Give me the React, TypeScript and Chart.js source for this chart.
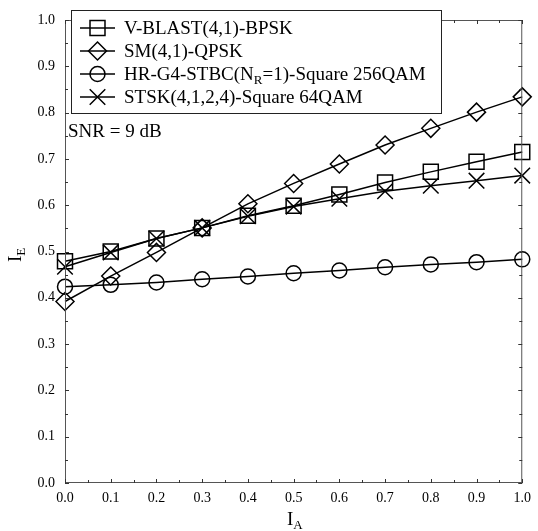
import React, { useEffect, useRef } from "react";
import { Chart, registerables } from "chart.js";

Chart.register(...registerables);

const xValues = [0.0, 0.1, 0.2, 0.3, 0.4, 0.5, 0.6, 0.7, 0.8, 0.9, 1.0];
const vblast = [0.479, 0.5, 0.528, 0.551, 0.577, 0.599, 0.623, 0.649, 0.672, 0.694, 0.715];
const sm = [0.392, 0.447, 0.498, 0.551, 0.603, 0.647, 0.689, 0.73, 0.766, 0.801, 0.834];
const hrg4 = [0.424, 0.428, 0.433, 0.44, 0.446, 0.453, 0.459, 0.466, 0.472, 0.477, 0.483];
const stsk = [0.467, 0.498, 0.528, 0.551, 0.576, 0.597, 0.614, 0.63, 0.642, 0.653, 0.664];

const seriesNames = [
  "V-BLAST(4,1)-BPSK",
  "SM(4,1)-QPSK",
  "HR-G4-STBC(N_R=1)-Square 256QAM",
  "STSK(4,1,2,4)-Square 64QAM",
];
const tickLabels = ["0.0", "0.1", "0.2", "0.3", "0.4", "0.5", "0.6", "0.7", "0.8", "0.9", "1.0"];
const annotation = "SNR = 9 dB";

const FONT = '"Liberation Serif", "Times New Roman", serif';

const styles = [
  { pointStyle: "rect", radius: 10.6 },
  { pointStyle: "rectRot", radius: 9 },
  { pointStyle: "circle", radius: 7.5 },
  { pointStyle: "crossRot", radius: 11 },
];

function drawSubText(ctx: CanvasRenderingContext2D, text: string, x: number, y: number, size: number, subSize: number, subDy: number) {
  // text with "_X" denoting a subscript char sequence until "=" or end
  const parts = text.split("_");
  let cx = x;
  ctx.font = `${size}px ${FONT}`;
  ctx.fillText(parts[0], cx, y);
  cx += ctx.measureText(parts[0]).width;
  if (parts.length > 1) {
    const sub = parts[1][0];
    const rest = parts[1].slice(1);
    ctx.font = `${subSize}px ${FONT}`;
    ctx.fillText(sub, cx, y + subDy);
    cx += ctx.measureText(sub).width;
    ctx.font = `${size}px ${FONT}`;
    ctx.fillText(rest, cx, y);
  }
}

const decorPlugin = {
  id: "decor",
  afterDraw(chart: any) {
    const ctx: CanvasRenderingContext2D = chart.ctx;
    const { left, right, top, bottom } = chart.chartArea;
    const xs = chart.scales.x;
    const ys = chart.scales.y;
    ctx.save();
    // frame
    ctx.strokeStyle = "#555";
    ctx.lineWidth = 1;
    ctx.strokeRect(left + 0.5, top + 0.5, right - left - 1, bottom - top - 1);
    // ticks
    ctx.strokeStyle = "#333";
    ctx.beginPath();
    for (let i = 0; i <= 20; i++) {
      const v = i * 0.05;
      const len = i % 2 === 0 ? 4 : 3;
      const px = Math.round(xs.getPixelForValue(v)) + 0.5;
      ctx.moveTo(px, bottom);
      ctx.lineTo(px, bottom - len);
      ctx.moveTo(px, top);
      ctx.lineTo(px, top + len);
      const py = Math.round(ys.getPixelForValue(v)) + 0.5;
      ctx.moveTo(left, py);
      ctx.lineTo(left + len, py);
      ctx.moveTo(right, py);
      ctx.lineTo(right - len, py);
    }
    ctx.stroke();

    ctx.fillStyle = "#000";
    ctx.textBaseline = "alphabetic";
    // x title
    drawSubText(ctx, "I_A", 287, 525, 19, 13, 4);
    // y title
    ctx.save();
    ctx.translate(21, 262);
    ctx.rotate(-Math.PI / 2);
    drawSubText(ctx, "I_E", 0, 0, 19, 13, 4);
    ctx.restore();

    // annotation
    ctx.font = `19px ${FONT}`;
    ctx.fillText(annotation, 68, 137);

    // legend
    const bx = 71, by = 10, bw = 370, bh = 103;
    ctx.fillStyle = "#fff";
    ctx.fillRect(bx, by, bw, bh);
    ctx.strokeStyle = "#222";
    ctx.lineWidth = 1;
    ctx.strokeRect(bx + 0.5, by + 0.5, bw, bh);
    ctx.fillStyle = "#000";
    const rowY = [28, 51, 74, 97];
    for (let i = 0; i < seriesNames.length; i++) {
      const cy = rowY[i];
      ctx.strokeStyle = "#000";
      ctx.lineWidth = 1.5;
      ctx.beginPath();
      ctx.moveTo(80, cy);
      ctx.lineTo(115, cy);
      ctx.stroke();
      (Chart as any).helpers?.drawPoint;
      drawMarker(ctx, styles[i].pointStyle, styles[i].radius, 97.5, cy);
      ctx.fillStyle = "#000";
      drawSubText(ctx, seriesNames[i], 124, cy + 6.3, 19, 13, 4);
    }
    ctx.restore();
  },
};

function drawMarker(ctx: CanvasRenderingContext2D, style: string, r: number, x: number, y: number) {
  ctx.save();
  ctx.strokeStyle = "#000";
  ctx.lineWidth = 1.5;
  ctx.beginPath();
  if (style === "rect") {
    const s = Math.SQRT1_2 * r;
    ctx.rect(x - s, y - s, 2 * s, 2 * s);
  } else if (style === "rectRot") {
    ctx.moveTo(x, y - r);
    ctx.lineTo(x + r, y);
    ctx.lineTo(x, y + r);
    ctx.lineTo(x - r, y);
    ctx.closePath();
  } else if (style === "circle") {
    ctx.arc(x, y, r, 0, Math.PI * 2);
  } else {
    const d = Math.SQRT1_2 * r;
    ctx.moveTo(x - d, y - d);
    ctx.lineTo(x + d, y + d);
    ctx.moveTo(x + d, y - d);
    ctx.lineTo(x - d, y + d);
  }
  ctx.stroke();
  ctx.restore();
}

export default function App() {
  const ref = useRef<HTMLCanvasElement>(null);
  useEffect(() => {
    document.body.style.margin = "0";
    const all = [vblast, sm, hrg4, stsk];
    const chart = new Chart(ref.current!, {
      type: "line",
      data: {
        datasets: all.map((vals, i) => ({
          label: seriesNames[i],
          data: xValues.map((x, j) => ({ x, y: vals[j] })),
          borderColor: "#000",
          borderWidth: 1.5,
          pointStyle: styles[i].pointStyle as any,
          pointRadius: styles[i].radius,
          pointBorderWidth: 1.5,
          pointBorderColor: "#000",
          pointBackgroundColor: "rgba(0,0,0,0)",
          tension: 0,
          clip: false as any,
        })),
      },
      options: {
        animation: false,
        responsive: false,
        maintainAspectRatio: false,
        layout: { padding: { top: 20, right: 10, left: 0, bottom: 0 } },
        plugins: { legend: { display: false }, tooltip: { enabled: false } },
        scales: {
          x: {
            type: "linear",
            min: 0,
            max: 1,
            grid: { display: false, drawTicks: false },
            border: { display: false },
            ticks: {
              stepSize: 0.1,
              padding: 7,
              color: "#000",
              font: { family: FONT, size: 14 },
              maxRotation: 0,
              callback: (v: any) => tickLabels[Math.round(Number(v) * 10)],
            },
            afterFit: (s: any) => {
              s.height = 48;
            },
          },
          y: {
            type: "linear",
            min: 0,
            max: 1,
            grid: { display: false, drawTicks: false },
            border: { display: false },
            ticks: {
              stepSize: 0.1,
              padding: 10,
              color: "#000",
              font: { family: FONT, size: 14 },
              callback: (v: any) => tickLabels[Math.round(Number(v) * 10)],
            },
            afterFit: (s: any) => {
              s.width = 65;
            },
          },
        },
      },
      plugins: [decorPlugin],
    });
    return () => chart.destroy();
  }, []);
  return <canvas ref={ref} width={538} height={531} style={{ display: "block", width: 538, height: 531 }} />;
}
